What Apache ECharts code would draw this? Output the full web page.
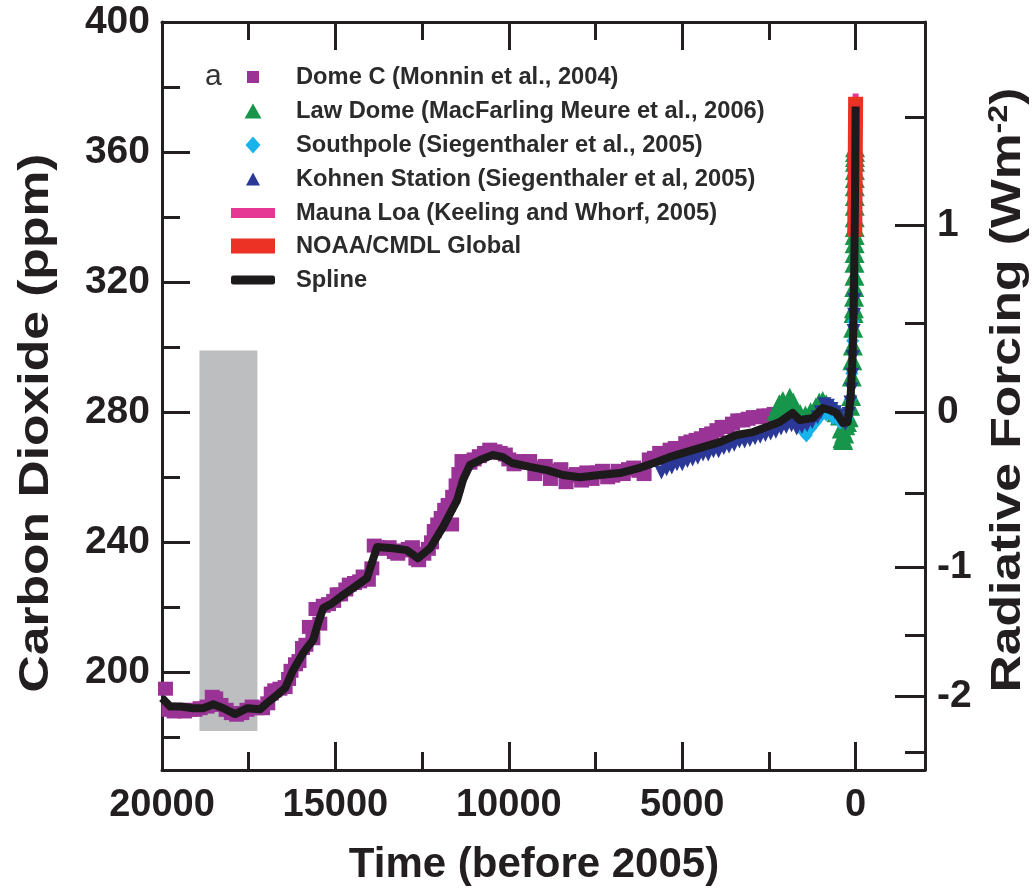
<!DOCTYPE html>
<html>
<head>
<meta charset="utf-8">
<script src="https://cdn.jsdelivr.net/npm/echarts@6/dist/echarts.min.js"></script>
<style>
html,body{margin:0;padding:0;background:#fff;}
#chart{width:1033px;height:895px;}
</style>
</head>
<body>
<div id="chart"></div>
<script>
// ---------- data ----------
const xTickLabels = [20000, 15000, 10000, 5000, 0];
const xMinorTicks = [17500, 12500, 7500, 2500];
const yTickLabels = [200, 240, 280, 320, 360, 400];
const yMinorTicks = [180, 220, 260, 300, 340, 380];
const rfTickLabels = [-2, -1, 0, 1];
const rfMinorTicks = [-2.5, -1.5, -0.5, 0.5, 1.5];
const rfReferencePpm = 280;
const rfCoefficient = 5.35;

const lgmBandYears = [18920, 17250];
const lgmBandPpm = [182, 299];

const seriesNames = [
  'Dome C (Monnin et al., 2004)',
  'Law Dome (MacFarling Meure et al., 2006)',
  'Southpole (Siegenthaler et al., 2005)',
  'Kohnen Station (Siegenthaler et al, 2005)',
  'Mauna Loa (Keeling and Whorf, 2005)',
  'NOAA/CMDL Global',
  'Spline'
];

const domeC = [
  [19900,195.0],[19800,188.5],[19650,188.0],[19500,188.5],[19350,188.0],[19200,188.5],
  [19050,188.5],[18900,189.0],[18700,189.5],[18550,192.5],[18450,192.0],[18300,190.0],
  [18150,188.5],[18000,187.5],[17850,187.0],[17700,187.5],[17550,188.5],[17400,189.5],
  [17250,189.0],[17100,189.0],[16950,190.5],[16850,193.5],[16750,194.5],[16600,195.0],
  [16450,195.5],[16350,198.0],[16280,200.5],[16150,202.5],[16050,203.5],[15950,207.5],
  [15850,208.5],[15750,214.0],[15650,210.5],[15560,219.5],[15450,215.0],[15350,220.5],
  [15200,221.0],[15050,222.0],[14950,224.0],[14850,224.0],[14700,225.5],[14600,227.0],
  [14450,227.5],[14300,228.0],[14200,229.5],[14050,228.5],[13950,232.0],[13880,239.0],
  [13750,238.5],[13600,238.0],[13450,238.5],[13300,237.0],[13200,236.5],[13050,237.5],
  [12900,238.0],[12780,238.5],[12680,235.0],[12600,234.5],[12450,236.5],[12320,238.0],
  [12230,240.0],[12150,243.5],[12050,245.5],[11950,247.5],[11850,250.0],[11750,251.5],
  [11650,245.5],[11620,254.0],[11520,257.5],[11440,261.0],[11350,265.0],[11250,264.5],
  [11120,264.5],[11000,265.5],[10850,266.5],[10700,267.5],[10550,268.5],[10400,268.0],
  [10250,267.5],[10100,267.0],[10000,265.5],[9850,264.0],[9700,265.0],[9550,264.5],
  [9400,265.0],[9250,261.0],[9100,263.0],[8950,263.5],[8800,259.5],[8650,262.0],
  [8500,262.5],[8350,258.5],[8200,260.5],[8050,261.0],[7900,259.0],[7750,261.5],
  [7600,259.5],[7450,261.5],[7300,262.0],[7150,260.0],[7000,260.5],[6850,262.0],
  [6700,261.0],[6550,262.5],[6400,263.0],[6250,262.0],[6100,261.0],[5950,265.5],
  [5800,266.0],[5650,267.5],[5500,267.0],[5350,268.5],[5200,269.0],[5050,269.0],
  [4900,270.5],[4750,271.0],[4600,271.5],[4450,272.0],[4300,273.0],[4150,273.5],
  [4000,274.5],[3850,275.5],[3700,275.5],[3550,276.5],[3400,277.5],[3250,277.5],
  [3100,278.0],[2950,278.5],[2800,278.5],[2650,279.0],[2500,279.0],[2350,279.5]
];

const lawDome = [
  [2280,280.5],[2200,282.5],[2100,283.5],[2000,282.0],[1900,284.5],[1800,283.0],
  [1700,280.5],[1600,279.5],[1450,279.0],[1300,280.0],[1150,281.5],[1050,283.0],
  [950,283.5],[850,282.5],[750,281.5],[650,281.0],[550,280.0],[450,279.0],[400,275.0],
  [380,272.0],[360,271.5],[330,273.5],[300,276.0],[250,277.0],[200,278.5],[160,282.0],
  [130,285.0],[110,291.0],[95,296.0],[80,300.5],[70,306.0],[60,310.5],[50,312.0],
  [45,315.5],[40,318.5],[35,322.0],[32,326.0],[30,329.0],[29,332.0],[28,334.5],
  [27,337.0],[26,340.0],[25,343.5],[24,346.5],[23,349.5],[22,352.0],[21,354.5],
  [20,357.0],[19,358.5],[18,360.0],[17,361.5]
];

const southPole = [
  [1500,274.0],[1420,273.0],[1300,275.0],[1150,277.0],[1000,279.0],[850,279.5],
  [650,278.5],[450,277.0],[250,278.0],[150,284.0],[110,292.0],[85,302.0],[70,308.0]
];

const kohnen = [
  [5600,261.5],[5450,262.5],[5300,263.0],[5150,264.0],[5000,264.0],[4850,265.0],
  [4700,265.5],[4550,266.0],[4400,267.0],[4250,267.0],[4100,268.0],[3950,268.0],
  [3800,269.0],[3650,269.5],[3500,270.0],[3350,271.0],[3200,271.0],[3050,271.5],
  [2900,272.0],[2750,272.5],[2600,273.0],[2450,273.5],[2300,274.0],[2150,275.0],
  [2000,275.5],[1850,276.0],[1700,275.0],[1550,275.5],[1400,276.0],[1250,277.0],
  [1100,278.5],[1000,280.0],[900,282.5],[800,282.0],[700,281.0],[600,280.0],
  [500,279.0],[400,277.5],[300,276.5],[250,277.5],[200,279.5],[150,283.0],
  [120,287.0],[100,291.5],[80,297.0],[60,305.0],[45,310.0],[35,314.5]
];

const maunaLoa = [[47,315.5],[37,321.5],[27,331.0],[17,345.5],[7,361.5],[0,378.0]];
const noaaGlobal = [[26,334.0],[18,347.0],[10,360.0],[0,377.0]];

const spline = [
  [20000,192.1],[19760,189.5],[19470,189.5],[19100,189.0],[18810,189.0],[18520,190.2],
  [18230,189.0],[17890,187.2],[17540,189.0],[17170,188.7],[16970,190.6],[16680,193.1],
  [16450,195.2],[16220,200.7],[15930,206.0],[15640,210.0],[15500,215.2],[15350,219.8],
  [15090,221.3],[14780,223.8],[14580,225.3],[14090,229.0],[13800,238.6],[13340,238.2],
  [12940,237.6],[12620,235.1],[12270,238.2],[11900,244.7],[11490,253.0],[11320,259.2],
  [11120,263.8],[10830,265.3],[10460,266.9],[10170,266.2],[9910,264.4],[9390,263.2],
  [8900,262.2],[8440,260.7],[7960,260.0],[7380,260.7],[6800,261.3],[6230,262.9],
  [5740,264.7],[5370,266.2],[4870,267.8],[4410,269.3],[3920,270.8],[3430,273.0],
  [2960,273.9],[2570,275.5],[2190,277.0],[1820,279.8],[1610,277.6],[1240,278.2],
  [950,281.3],[750,280.7],[550,279.8],[370,276.7],[230,277.0],[150,284.0],[100,294.0],
  [70,305.0],[45,320.0],[25,338.0],[10,356.0],[0,374.0]
];

// ---------- styling ----------
const FONT = '"Liberation Sans", Arial, Helvetica, sans-serif';
const INK = '#231f20';
const colors = ['#9a3396', '#17964b', '#17b3ea', '#2b3897', '#e63795', '#ec3125', '#1c1a1b'];

const rfToPpm = rf => rfReferencePpm * Math.exp(rf / rfCoefficient);
const ppmToRf = c => rfCoefficient * Math.log(c / rfReferencePpm);

const X_MIN = -2000, X_MAX = 20000, Y_MIN = 170, Y_MAX = 400;

function xAxisDef(position, ticks, len, showLine, labels) {
  return {
    type: 'value', min: X_MIN, max: X_MAX, inverse: true, position: position,
    splitLine: { show: false },
    axisLine: { show: showLine, onZero: false, lineStyle: { color: INK, width: 3 } },
    axisTick: { show: true, inside: true, length: len, customValues: ticks, lineStyle: { color: INK, width: 3 } },
    axisLabel: labels ? {
      show: true, customValues: labels, margin: 17, color: INK,
      fontFamily: FONT, fontWeight: 'bold', fontSize: 38,
      formatter: v => String(v)
    } : { show: false }
  };
}
function yAxisDef(position, ticks, len, showLine, labels, fmt) {
  return {
    type: 'value', min: Y_MIN, max: Y_MAX, position: position,
    splitLine: { show: false },
    axisLine: { show: showLine, onZero: false, lineStyle: { color: INK, width: 3 } },
    axisTick: { show: true, inside: true, length: len, customValues: ticks, lineStyle: { color: INK, width: 3 } },
    axisLabel: labels ? {
      show: true, customValues: labels, margin: 12, color: INK,
      fontFamily: FONT, fontWeight: 'bold', fontSize: 39,
      formatter: fmt
    } : { show: false }
  };
}

const legendRows = [78, 112, 146, 180, 214, 247, 281];
const legendIcons = [
  { w: 12, h: 12 }, { w: 17, h: 15 }, { w: 15, h: 17 }, { w: 14, h: 13 },
  { w: 44, h: 10, icon: 'rect' }, { w: 44, h: 15, icon: 'rect' }, { w: 44, h: 9, icon: 'roundRect' }
];
const legends = seriesNames.map((name, i) => {
  const ic = legendIcons[i];
  const left = 253 - ic.w / 2;
  const item = { name: name };
  if (ic.icon) { item.icon = ic.icon; item.itemStyle = { color: colors[i] }; }
  return {
    data: [item], orient: 'horizontal', left: left, top: legendRows[i] - 13, padding: 0,
    itemWidth: ic.w, itemHeight: ic.h, selectedMode: false,
    textStyle: {
      fontFamily: FONT, fontWeight: 'bold', fontSize: 23.7, color: '#2b2b2b',
      padding: [0, 0, 0, 296 - (left + ic.w + 5)]
    }
  };
});

const scatterBase = (name, data, color, symbol, size, extra) => Object.assign({
  name: name, type: 'scatter', data: data, symbol: symbol, symbolSize: size,
  itemStyle: { color: color, opacity: 1 }, xAxisIndex: 0, yAxisIndex: 0, z: 2,
  emphasis: { disabled: true }
}, extra || {});

const option = {
  animation: false,
  backgroundColor: '#fff',
  grid: { left: 162, top: 22, width: 763, height: 748, containLabel: false },
  xAxis: [
    xAxisDef('bottom', xTickLabels, 28, true, xTickLabels),
    xAxisDef('bottom', xMinorTicks, 18, false, null),
    xAxisDef('top', xTickLabels, 28, true, null),
    xAxisDef('top', xMinorTicks, 18, false, null)
  ],
  yAxis: [
    yAxisDef('left', yTickLabels, 28, true, yTickLabels, v => String(v)),
    yAxisDef('left', yMinorTicks, 18, false, null),
    yAxisDef('right', rfTickLabels.map(rfToPpm), 30, true, rfTickLabels.map(rfToPpm), v => String(Math.round(ppmToRf(v)))),
    yAxisDef('right', rfMinorTicks.map(rfToPpm), 20, false, null)
  ],
  legend: legends,
  graphic: [
    { type: 'text', left: 205, top: 62, style: { text: 'a', font: 'normal 30px ' + FONT, fill: '#333' } },
    { type: 'text', x: 36, y: 423, rotation: Math.PI / 2, scaleX: 1.2,
      style: { text: 'Carbon Dioxide (ppm)', font: 'bold 43px ' + FONT, fill: INK, align: 'center', verticalAlign: 'middle' } },
    { type: 'text', x: 1008, y: 390, rotation: Math.PI / 2, scaleX: 1.2,
      style: { text: 'Radiative Forcing (Wm{sup|-2})', font: 'bold 43px ' + FONT, fill: INK, align: 'center', verticalAlign: 'middle',
        rich: { sup: { font: 'bold 27px ' + FONT, fill: INK, verticalAlign: 'top', padding: [0, 0, 16, 0] } } } },
    { type: 'text', x: 534, y: 865,
      style: { text: 'Time (before 2005)', font: 'bold 42px ' + FONT, fill: INK, align: 'center', verticalAlign: 'middle' } }
  ],
  series: [
    scatterBase(seriesNames[0], domeC, colors[0], 'rect', [15, 14], {
      markArea: {
        silent: true, z: 1,
        itemStyle: { color: '#bcbec0', opacity: 1 },
        data: [[{ coord: [lgmBandYears[0], lgmBandPpm[0]] }, { coord: [lgmBandYears[1], lgmBandPpm[1]] }]]
      }
    }),
    scatterBase(seriesNames[1], lawDome, colors[1], 'triangle', 20),
    scatterBase(seriesNames[2], southPole, colors[2], 'diamond', [13, 15]),
    scatterBase(seriesNames[3], kohnen, colors[3], 'triangle', 14, { symbolRotate: 180 }),
    { name: seriesNames[4], type: 'line', data: maunaLoa, symbol: 'none', z: 3,
      lineStyle: { color: colors[4], width: 6 }, itemStyle: { color: colors[4] }, emphasis: { disabled: true } },
    { name: seriesNames[5], type: 'line', data: noaaGlobal, symbol: 'none', z: 4,
      lineStyle: { color: colors[5], width: 15, cap: 'butt' }, itemStyle: { color: colors[5] }, emphasis: { disabled: true } },
    { name: seriesNames[6], type: 'line', data: spline, symbol: 'none', z: 5,
      lineStyle: { color: colors[6], width: 8, join: 'round' }, itemStyle: { color: colors[6] }, emphasis: { disabled: true } }
  ]
};

const chart = echarts.init(document.getElementById('chart'), null, { renderer: 'canvas' });
chart.setOption(option);
</script>
</body>
</html>
